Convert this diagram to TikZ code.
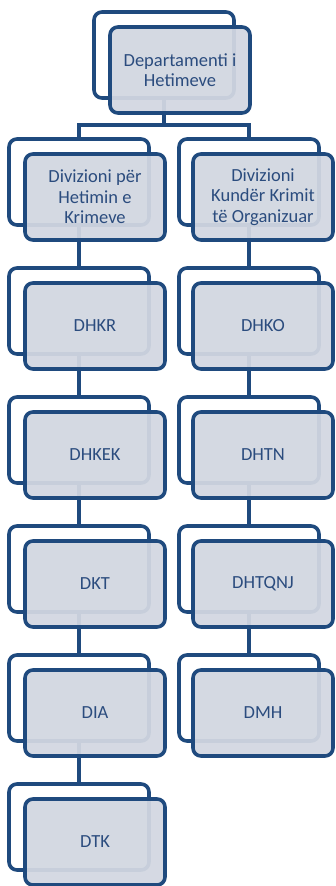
\documentclass[tikz,border=0pt]{standalone}
\usepackage{fontspec}
\setmainfont{Carlito}
\usetikzlibrary{positioning}
\definecolor{frame}{HTML}{1F4A7E}
\definecolor{boxfill}{HTML}{D2D7E1}
\definecolor{txt}{HTML}{2B4C7E}
\pgfdeclarelayer{conn}
\pgfdeclarelayer{back}
\pgfsetlayers{conn,back,main}
\tikzset{
  backframe/.style={draw=frame, line width=3.6pt, fill=white, rounded corners=8pt,
    minimum width=140pt, minimum height=86pt, inner sep=0pt},
  frontbox/.style={draw=frame, line width=3.6pt, fill=boxfill, fill opacity=0.94, text opacity=1,
    rounded corners=8pt, minimum width=140pt, minimum height=86pt, inner sep=2pt,
    text=txt, align=center, font=\fontsize{18.5}{20.5}\selectfont},
  link/.style={draw=frame, line width=3.2pt}
}
\begin{document}
\begin{tikzpicture}[x=1pt,y=-1pt]
\useasboundingbox (0,0) rectangle (335,886);
% top
\begin{pgfonlayer}{back}
\node[backframe] (b0) at (164,55) {};
\end{pgfonlayer}
\node[frontbox] (f0) at (180,70) {Departamenti i\\Hetimeve};
% left column
\foreach \i/\t in {1/{Divizioni për\\Hetimin e\\Krimeve},2/DHKR,3/DHKEK,4/DKT,5/DIA,6/DTK}{
  \begin{pgfonlayer}{back}
  \node[backframe] (bl\i) at (79,{182+(\i-1)*129}) {};
  \end{pgfonlayer}
  \node[frontbox] (fl\i) at (95,{197+(\i-1)*129}) {\t};
}
% right column
\foreach \i/\t in {1/{Divizioni\\Kundër Krimit\\të Organizuar},2/DHKO,3/DHTN,4/DHTQNJ,5/DMH}{
  \begin{pgfonlayer}{back}
  \node[backframe] (br\i) at (249,{182+(\i-1)*129}) {};
  \end{pgfonlayer}
  \node[frontbox] (fr\i) at (263,{197+(\i-1)*129}) {\t};
}
\begin{pgfonlayer}{conn}
\coordinate (split) at (164,125);
\draw[link] (b0.center) -- (split);
\draw[link] (bl1.center) |- (split) -| (br1.center);
\foreach \a/\b in {1/2,2/3,3/4,4/5,5/6}{\draw[link] (bl\a.center) -- (bl\b.center);}
\foreach \a/\b in {1/2,2/3,3/4,4/5}{\draw[link] (br\a.center) -- (br\b.center);}
\end{pgfonlayer}
\end{tikzpicture}
\end{document}
